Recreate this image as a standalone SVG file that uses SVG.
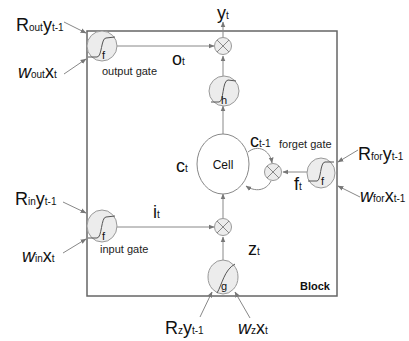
<svg xmlns="http://www.w3.org/2000/svg" width="409" height="341" viewBox="0 0 409 341">
<style>
text{font-family:"Liberation Sans",Arial,sans-serif;fill:#111}
.big{font-size:18px}
.sub{font-size:10px}
.lbl{font-size:11px;fill:#222}
.gate{fill:#ececec;stroke:#999;stroke-width:1}
.sig{fill:none;stroke:#555;stroke-width:1}
.mul{fill:#ececec;stroke:#999;stroke-width:1}
.x{stroke:#888;stroke-width:1}
.con{fill:none;stroke:#888;stroke-width:1}
</style>
<defs>
<marker id="ah" viewBox="0 0 10 10" refX="9" refY="5" markerWidth="6" markerHeight="6" markerUnits="userSpaceOnUse" orient="auto">
<path d="M0,1 L10,5 L0,9 z" fill="#777"/>
</marker>
</defs>
<rect id="block" x="87" y="31" width="250" height="265" fill="none" stroke="#666" stroke-width="1.5"/>
<text x="330" y="290" font-size="11" font-weight="bold" text-anchor="end">Block</text>

<g id="connectors">
<line class="con" x1="64" y1="22" x2="86" y2="33" marker-end="url(#ah)"/>
<line class="con" x1="64" y1="74" x2="86" y2="59" marker-end="url(#ah)"/>
<line class="con" x1="63" y1="202" x2="86" y2="213" marker-end="url(#ah)"/>
<line class="con" x1="63" y1="253" x2="86" y2="239" marker-end="url(#ah)"/>
<line class="con" x1="358" y1="150" x2="338" y2="162" marker-end="url(#ah)"/>
<line class="con" x1="360" y1="197" x2="338" y2="186" marker-end="url(#ah)"/>
<line class="con" x1="200" y1="317" x2="212" y2="292" marker-end="url(#ah)"/>
<line class="con" x1="250" y1="318" x2="235" y2="292" marker-end="url(#ah)"/>
<line class="con" x1="117" y1="46" x2="214" y2="46" marker-end="url(#ah)"/>
<line class="con" x1="223" y1="37" x2="223" y2="22" marker-end="url(#ah)"/>
<line class="con" x1="223" y1="77" x2="223" y2="56" marker-end="url(#ah)"/>
<line class="con" x1="223" y1="134" x2="223" y2="106" marker-end="url(#ah)"/>
<line class="con" x1="117" y1="227" x2="214" y2="227" marker-end="url(#ah)"/>
<line class="con" x1="223" y1="218" x2="223" y2="194" marker-end="url(#ah)"/>
<line class="con" x1="223" y1="261" x2="223" y2="237" marker-end="url(#ah)"/>
<line class="con" x1="307" y1="172" x2="283" y2="172" marker-end="url(#ah)"/>
<path class="con" d="M248,152 C258,144 270,150 272,163" marker-end="url(#ah)"/>
<path class="con" d="M271,181 C266,191 255,192 246,186" marker-end="url(#ah)"/>
</g>

<g id="output-gate">
<ellipse class="gate" cx="102" cy="46" rx="15" ry="15"/>
<path class="sig" d="M88,57 L97,57 C102,57 101,38 106,38 L115,37"/>
<text x="102" y="59" font-size="11">f</text>
<text class="lbl" x="102" y="75">output gate</text>
</g>

<g id="input-gate">
<ellipse class="gate" cx="102" cy="226" rx="15" ry="16"/>
<path class="sig" d="M88,238 L97,238 C102,238 101,217 106,217 L115,216"/>
<text x="102" y="240" font-size="11">f</text>
<text class="lbl" x="100" y="253">input gate</text>
</g>

<g id="forget-gate">
<ellipse class="gate" cx="321" cy="173" rx="14" ry="15"/>
<path class="sig" d="M308,181 L317,181 C321,181 320,162 325,162 L334,162"/>
<text x="321" y="185" font-size="11">f</text>
<text class="lbl" x="279" y="148">forget gate</text>
</g>

<g id="g-unit">
<ellipse class="gate" cx="223" cy="277" rx="15" ry="17"/>
<path class="sig" d="M217,293 C222,285 224,270 235,264"/>
<text x="221" y="290" font-size="11">g</text>
</g>

<g id="h-unit">
<ellipse class="gate" cx="224" cy="91" rx="15" ry="15"/>
<path class="sig" d="M211,102 L219,102 C224,102 222,81 228,80 L236,81"/>
<text x="221" y="104" font-size="11">h</text>
</g>

<g id="cell">
<ellipse cx="223" cy="164" rx="26" ry="30" fill="#fff" stroke="#888" stroke-width="1"/>
<text x="223" y="169" font-size="12" text-anchor="middle" fill="#333">Cell</text>
</g>

<g id="mul-out">
<circle class="mul" cx="223" cy="46" r="8.5"/>
<line class="x" x1="217" y1="40" x2="229" y2="52"/><line class="x" x1="229" y1="40" x2="217" y2="52"/>
</g>
<g id="mul-in">
<circle class="mul" cx="223" cy="227" r="8.5"/>
<line class="x" x1="217" y1="221" x2="229" y2="233"/><line class="x" x1="229" y1="221" x2="217" y2="233"/>
</g>
<g id="mul-forget">
<circle class="mul" cx="273" cy="172" r="8.5"/>
<line class="x" x1="267" y1="166" x2="279" y2="178"/><line class="x" x1="279" y1="166" x2="267" y2="178"/>
</g>

<g id="labels">
<text x="217" y="19"><tspan class="big">y</tspan><tspan class="sub">t</tspan></text>
<text x="172" y="65"><tspan class="big">o</tspan><tspan class="sub">t</tspan></text>
<text x="176" y="172"><tspan class="big">c</tspan><tspan class="sub">t</tspan></text>
<text x="250" y="147"><tspan class="big">c</tspan><tspan class="sub">t-1</tspan></text>
<text x="294" y="190"><tspan class="big">f</tspan><tspan class="sub">t</tspan></text>
<text x="153" y="218"><tspan class="big">i</tspan><tspan class="sub">t</tspan></text>
<text x="248" y="255"><tspan class="big">z</tspan><tspan class="sub">t</tspan></text>
</g>

<g id="inputs">
<text x="16" y="31"><tspan class="big">R</tspan><tspan class="sub">out</tspan><tspan class="big">y</tspan><tspan class="sub">t-1</tspan></text>
<text x="18" y="78"><tspan class="big" font-style="italic">w</tspan><tspan class="sub">out</tspan><tspan class="big">x</tspan><tspan class="sub">t</tspan></text>
<text x="15" y="205"><tspan class="big">R</tspan><tspan class="sub">in</tspan><tspan class="big">y</tspan><tspan class="sub">t-1</tspan></text>
<text x="22" y="262"><tspan class="big" font-style="italic">w</tspan><tspan class="sub">in</tspan><tspan class="big">x</tspan><tspan class="sub">t</tspan></text>
<text x="358" y="160"><tspan class="big">R</tspan><tspan class="sub">for</tspan><tspan class="big">y</tspan><tspan class="sub">t-1</tspan></text>
<text x="360" y="202"><tspan class="big" font-style="italic">w</tspan><tspan class="sub">for</tspan><tspan class="big">x</tspan><tspan class="sub">t-1</tspan></text>
<text x="165" y="334"><tspan class="big">R</tspan><tspan class="sub">z</tspan><tspan class="big">y</tspan><tspan class="sub">t-1</tspan></text>
<text x="238" y="334"><tspan class="big" font-style="italic">w</tspan><tspan class="sub">z</tspan><tspan class="big">x</tspan><tspan class="sub">t</tspan></text>
</g>
</svg>
